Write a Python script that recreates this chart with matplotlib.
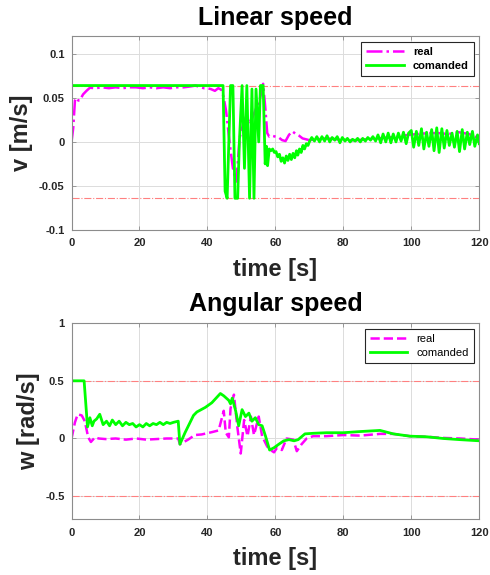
import matplotlib
matplotlib.use("Agg")
import matplotlib.pyplot as plt

plt.rcParams['font.family'] = ['Liberation Sans', 'DejaVu Sans']

# ---- linear speed, commanded ----
t_v_cmd = [0, 44.6, 45.2, 45.8, 46.3, 46.8, 47.5, 48.1, 48.9, 49.4, 50.2, 50.9,
           51.6, 52.4, 53.1, 53.7, 54.3, 55.1, 55.6, 56.4, 57.0, 57.4, 57.7,
           58.2, 58.7, 59.2, 59.7, 60.2, 60.7, 61.2, 61.7, 62.2, 62.7, 63.2,
           63.7, 64.2, 64.7, 65.2, 65.7, 66.2, 66.6, 67.1, 67.6, 68.1, 68.6,
           69.1, 69.6, 70.1,
           70.7, 71.5, 72.2, 73.0, 73.7, 74.5, 75.2, 76.0, 76.7, 77.5, 78.2,
           79.0, 79.7, 80.5, 81.2, 82.0, 82.7, 83.5, 84.2, 85.0, 85.7, 86.5,
           87.2, 88.0, 88.7, 89.5,
           90.2, 91.0, 91.7, 92.5, 93.2, 94.0, 94.7, 95.5, 96.2, 97.0, 97.7,
           98.5, 99.2,
           100.0, 100.7, 101.5, 102.2, 103.0, 103.7, 104.5, 105.2, 106.0,
           106.7, 107.5, 108.2, 109.0, 109.7, 110.5, 111.2, 112.0, 112.7,
           113.5, 114.2, 115.0, 115.7, 116.5, 117.2, 118.0, 118.7, 119.5, 120.0]
v_cmd = [0.064, 0.064, -0.056, -0.064, 0.0, 0.064, 0.064, -0.064, -0.064, 0.0,
         0.064, -0.03, 0.064, -0.064, 0.06, -0.064, 0.06, 0.0, 0.064, 0.064,
         -0.025, -0.005, -0.027, -0.008, -0.01, -0.008, -0.012, -0.011, -0.017,
         -0.014, -0.022, -0.018, -0.024, -0.016, -0.021, -0.014, -0.02, -0.013,
         -0.018, -0.01, -0.015, -0.008, -0.012, -0.004, -0.008, -0.002, -0.004,
         0.001,
         0.005, 0.001, 0.006, 0.0, 0.006, 0.001, 0.007, 0.0, 0.005, 0.002,
         0.006, -0.001, 0.005, 0.001, 0.004, 0.0, 0.003, 0.001, 0.004, 0.0,
         0.004, 0.001, 0.005, 0.002, 0.006, 0.001,
         0.008, -0.001, 0.009, 0.0, 0.01, -0.001, 0.009, 0.0, 0.01, 0.001,
         0.011, -0.002, 0.01,
         0.013, -0.006, 0.012, -0.004, 0.015, -0.008, 0.011, -0.005, 0.014,
         -0.01, 0.016, -0.012, 0.015, -0.007, 0.013, -0.004, 0.01, -0.006,
         0.012, -0.011, 0.014, -0.008, 0.011, -0.003, 0.012, -0.005, 0.008,
         -0.002]

# ---- linear speed, real ----
t_v_real = [0, 0.5, 1.0, 1.5, 2.0, 2.4, 3.4, 4.4, 5.4, 7, 9, 11, 13, 15, 17,
            19, 21, 23, 25, 27, 29, 31, 33, 35, 36.5, 38, 39, 40, 41, 42.2,
            43.2, 44.2, 44.8, 45.5, 46.5, 47.5, 48.5, 49.5, 50.5, 51.5, 52.5,
            53.5, 54.5, 55.5, 56.4, 57.0, 57.6, 58.2, 59.0, 60.0, 61.0, 62.0,
            63.0, 64.0, 65.0, 66.0, 67.0, 68.0, 69.0, 70.0, 72, 75, 78, 81,
            84, 87, 90, 93, 96, 99, 102, 105, 108, 111, 114, 117, 120]
v_real = [0.0, 0.016, 0.047, 0.05, 0.047, 0.047, 0.054, 0.058, 0.0615, 0.061,
          0.062, 0.061, 0.062, 0.061, 0.062, 0.062, 0.061, 0.062, 0.061,
          0.062, 0.061, 0.062, 0.062, 0.063, 0.064, 0.062, 0.061, 0.061, 0.06,
          0.058, 0.061, 0.059, 0.05, 0.035, 0.0, -0.03, -0.045, 0.005, 0.02,
          0.03, 0.02, 0.03, 0.04, 0.05, 0.066, 0.04, 0.01, 0.006, 0.007, 0.006,
          0.005, 0.002, 0.001, 0.008, 0.012, 0.009, 0.007, 0.004, 0.003, 0.002,
          0.003, 0.004, 0.003, 0.002, 0.002, 0.003, 0.004, 0.005, 0.006, 0.008,
          0.009, 0.01, 0.01, 0.009, 0.011, 0.009, 0.004]

# ---- angular speed, commanded ----
t_w_cmd = [0, 3.7, 4.7, 5.4, 6.1, 6.6, 7.4, 8.3, 9.3, 10.3, 11.2, 12.0, 13.0,
           14.0, 15.0, 16.0, 17.0, 18.0, 19.0, 20.0, 21.0, 22.0, 23.0, 24.0,
           25.0, 26.0, 27.0, 28.0, 29.0, 30.0, 31.4, 31.9, 33.4, 35.9, 36.9,
           39.4, 41.3, 43.8, 44.8, 46.3, 46.8, 47.3, 48.3, 49.2, 50.2, 51.2,
           52.2, 53.1, 54.1, 55.1, 56.1, 57.1, 58.3, 59.6, 61.0, 62.5, 64.0,
           65.5, 66.7, 68.7, 71.1, 75.1, 80.0, 84.9, 90.8, 94.7, 99.6, 104.5,
           109.4, 114.3, 120.0]
w_cmd = [0.5, 0.5, 0.1, 0.18, 0.11, 0.15, 0.17, 0.21, 0.12, 0.15, 0.11, 0.16,
         0.12, 0.15, 0.11, 0.14, 0.12, 0.13, 0.1, 0.12, 0.1, 0.13, 0.11, 0.13,
         0.12, 0.14, 0.12, 0.14, 0.13, 0.14, 0.15, -0.05, 0.05, 0.2, 0.23, 0.27,
         0.31, 0.39, 0.37, 0.33, 0.3, 0.35, 0.24, 0.11, 0.25, 0.19, 0.22, 0.15,
         0.18, 0.12, 0.11, 0.02, -0.1, -0.08, -0.05, -0.02, -0.01, -0.02,
         -0.01, 0.04, 0.045, 0.05, 0.05, 0.06, 0.07, 0.04, 0.02, 0.015, 0.0,
         -0.01, -0.02]

# ---- angular speed, real ----
t_w_real = [0, 1.0, 1.8, 3.0, 3.9, 4.9, 5.7, 6.9, 8.0, 10, 13, 16, 19, 22,
            25, 28, 31.4, 31.9, 34.3, 36.3, 38.3, 41.3, 43.3, 44.8, 45.4,
            46.3, 46.8, 47.8, 48.8, 49.8, 50.8, 51.8, 52.8, 53.7, 55.1, 56.1,
            57.6, 58.6, 59.6, 60.5, 61.9, 63.3, 65.3, 66.3, 67.7, 69.2, 71.1,
            75, 80, 85, 90.8, 94.7, 99.6, 104.5, 109.4, 114.3, 120]
w_real = [0.0, 0.14, 0.21, 0.2, 0.15, 0.01, -0.03, 0.01, 0.0, -0.005, 0.0,
          -0.01, 0.0, -0.01, -0.005, 0.0, 0.0, -0.05, -0.01, 0.03, 0.035,
          0.055, 0.07, 0.24, 0.05, 0.01, 0.26, 0.38, 0.1, -0.13, 0.16, 0.02,
          0.19, 0.03, 0.19, 0.02, -0.07, -0.1, -0.12, -0.08, -0.1, 0.0, -0.01,
          -0.11, -0.05, 0.0, 0.02, 0.02, 0.03, 0.025, 0.04, 0.04, 0.02, 0.015,
          0.005, 0.0, -0.01]

v_limit = 0.064
w_limit = 0.5
x_ticks = [0, 20, 40, 60, 80, 100, 120]

fig = plt.figure(figsize=(4.9, 5.75), dpi=100)
ax1 = fig.add_axes([0.146, 0.600, 0.832, 0.337])
ax2 = fig.add_axes([0.146, 0.097, 0.832, 0.341])


def style(ax, ylabel, title, yticks, ylim, leg_weight, title_pad):
    ax.set_xlim(0, 120)
    ax.set_ylim(*ylim)
    ax.set_xticks(x_ticks)
    ax.set_yticks(yticks)
    ax.set_yticklabels([('%g' % y) for y in yticks])
    ax.grid(True, color='#dcdcdc', lw=0.7)
    ax.set_axisbelow(True)
    for s in ax.spines.values():
        s.set_color('#8c8c8c')
        s.set_linewidth(0.8)
    ax.tick_params(direction='in', length=3, width=0.6, colors='#8c8c8c',
                   labelcolor='#262626', labelsize=8, top=True, right=True)
    ax.tick_params(axis='x', pad=6)
    ax.tick_params(axis='y', pad=5)
    for lab in ax.get_xticklabels() + ax.get_yticklabels():
        lab.set_fontweight('bold')
    ax.set_xlabel('time [s]', fontsize=17, fontweight='bold', color='#262626',
                  labelpad=7)
    ax.set_ylabel(ylabel, fontsize=17, fontweight='bold', color='#262626',
                  labelpad=4)
    ax.set_title(title, fontsize=18, fontweight='bold', pad=title_pad)
    leg = ax.legend(loc='upper right', handlelength=3.4,
                    borderaxespad=0.5, fancybox=False, framealpha=1,
                    edgecolor='#262626', borderpad=0.45, labelspacing=0.35,
                    prop={'weight': leg_weight, 'size': 8})
    leg.get_frame().set_linewidth(0.8)


lim_style = dict(color='#ff8080', lw=0.8, ls='-.')

ax1.axhline(v_limit, **lim_style)
ax1.axhline(-v_limit, **lim_style)
ax1.plot(t_v_real, v_real, color='#ff00ff', lw=1.8, ls='-.', label='real')
ax1.plot(t_v_cmd, v_cmd, color='#00ff00', lw=2.0, label='comanded')
style(ax1, 'v [m/s]', 'Linear speed', [-0.1, -0.05, 0, 0.05, 0.1],
      (-0.1, 0.12), 'bold', 8)

ax2.axhline(w_limit, **lim_style)
ax2.axhline(-w_limit, **lim_style)
ax2.plot(t_w_real, w_real, color='#ff00ff', lw=1.8, ls='--', label='real')
ax2.plot(t_w_cmd, w_cmd, color='#00ff00', lw=2.0, label='comanded')
style(ax2, 'w [rad/s]', 'Angular speed', [-0.5, 0, 0.5, 1],
      (-0.7, 1.0), 'normal', 9)

fig.savefig('out.png', dpi=100)
